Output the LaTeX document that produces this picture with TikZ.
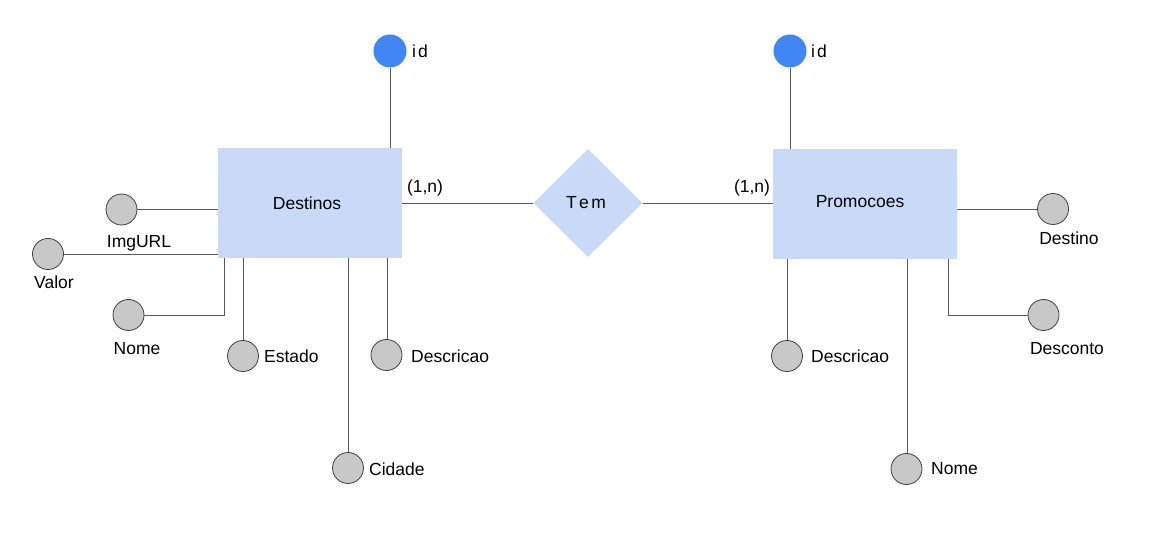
\documentclass[tikz,border=0pt]{standalone}
\usepackage{fontspec}
\setmainfont{Liberation Sans}
\usetikzlibrary{shapes.geometric}
\definecolor{entfill}{HTML}{C9DAF8}
\definecolor{attfill}{HTML}{C8C8C8}
\definecolor{keyfill}{HTML}{4285F4}
\definecolor{linec}{HTML}{595959}
\begin{document}
\begin{tikzpicture}[x=1pt,y=-1pt,
  entity/.style={rectangle,fill=entfill,minimum width=184pt,minimum height=110pt,inner sep=0pt},
  rel/.style={diamond,fill=entfill,minimum width=109pt,minimum height=108pt,inner sep=0pt},
  att/.style={circle,fill=attfill,draw=black!75,line width=0.8pt,minimum size=31pt,inner sep=0pt},
  key/.style={circle,fill=keyfill,minimum size=33pt,inner sep=0pt},
  lbl/.style={inner sep=0pt,font=\fontsize{17.5}{20}\selectfont},
  conn/.style={draw=linec,line width=0.9pt}]
\useasboundingbox (0,0) rectangle (1160,548);
% entities
\node[entity] (dest) at (310,203) {};
\node[lbl] (destt) at (307,203) {Destinos};
\node[entity] (promo) at (865,204) {};
\node[lbl] (promot) at (860,202) {Promocoes};
\node[rel] (tem) at (588,203) {};
\node[lbl] (temt) at (586,203) {T\kern2.5pt e\kern2.5pt m};
% Destinos attributes
\node[key] (did) at (390,51) {};
\node[lbl,anchor=west] (didl) at (412,51) {i\kern2pt d};
\node[att] (img) at (121.5,209.5) {};
\node[lbl] (imgl) at (139,243) {ImgURL};
\node[att] (valor) at (48,254) {};
\node[lbl] (valorl) at (54,282) {Valor};
\node[att] (nome1) at (128.5,315) {};
\node[lbl] (nome1l) at (137,349) {Nome};
\node[att] (estado) at (243,356) {};
\node[lbl,anchor=west] (estadol) at (264,356) {Estado};
\node[att] (desc1) at (386.5,355) {};
\node[lbl,anchor=west] (desc1l) at (411,356) {Descricao};
\node[att] (cidade) at (348,468) {};
\node[lbl,anchor=west] (cidadel) at (369,469) {Cidade};
% Promocoes attributes
\node[key] (pid) at (790,51) {};
\node[lbl,anchor=west] (pidl) at (811,51) {i\kern2pt d};
\node[att] (destino) at (1053,209) {};
\node[lbl] (destinol) at (1069,238) {Destino};
\node[att] (desconto) at (1043.5,315) {};
\node[lbl] (descontol) at (1067,349) {Desconto};
\node[att] (desc2) at (787,356) {};
\node[lbl,anchor=west] (desc2l) at (811,356) {Descricao};
\node[att] (nome2) at (906.5,469) {};
\node[lbl,anchor=west] (nome2l) at (931,469) {Nome};
% cardinalities
\node[lbl] (c1) at (425,188) {(1,n)};
\node[lbl] (c2) at (752,188) {(1,n)};
% connectors
\path[conn] (did) -- (did |- dest.north);
\path[conn] (pid) -- (pid |- promo.north);
\path[conn] (img) -- (img -| dest.west);
\path[conn] (valor) -- (valor -| dest.west);
\path[conn] (nome1) -| ([xshift=7pt]dest.south west);
\path[conn] ([xshift=0.5pt]estado.north) -- ([xshift=0.5pt]estado.north |- dest.south);
\path[conn] ([xshift=0.5pt]desc1.north) -- ([xshift=0.5pt]desc1.north |- dest.south);
\path[conn] ([xshift=0.5pt]cidade.north) -- ([xshift=0.5pt]cidade.north |- dest.south);
\path[conn] (dest.east) -- (tem.west);
\path[conn] (tem.east) -- (promo.west |- tem.east);
\path[conn] (destino) -- (destino -| promo.east);
\path[conn] (desconto) -| ([xshift=-9pt]promo.south east);
\path[conn] (desc2.north) -- (desc2.north |- promo.south);
\path[conn] ([xshift=1pt]nome2.north) -- ([xshift=1pt]nome2.north |- promo.south);
\end{tikzpicture}
\end{document}
